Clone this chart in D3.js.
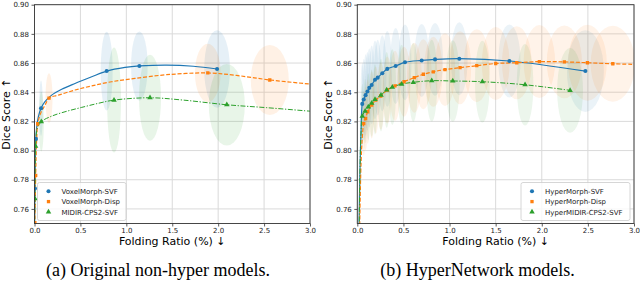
<!DOCTYPE html>
<html>
<head>
<meta charset="utf-8">
<script src="https://cdn.jsdelivr.net/npm/d3@7"></script>
<style>
  body { margin: 0; background: #fff; }
  svg { display: block; }
  .tick text { font-family: "DejaVu Sans", sans-serif; font-size: 7px; fill: #222; }
</style>
</head>
<body>
<div id="chart"></div>
<script>
/* DATA */
const xTicks = [0, 0.5, 1, 1.5, 2, 2.5, 3];
const yTicks = [0.76, 0.78, 0.80, 0.82, 0.84, 0.86, 0.88, 0.90];

// (a) original models: marker points, std ellipses (rx, ry) and fitted curve
const vmSvfPts = [[0.005,0.774],[0.016,0.808],[0.071,0.829],[0.786,0.8545],[1.142,0.858],[1.988,0.8559]];
const vmSvfRx = [0.003,0.004,0.02,0.065,0.09,0.14];
const vmSvfRy = [0.004,0.006,0.019,0.027,0.0237,0.0265];
const vmSvfCurve = [[0.0,0.745],[0.005,0.774],[0.012,0.80],[0.022,0.815],[0.041,0.823],[0.071,0.829],[0.114,0.8335],[0.187,0.838],[0.296,0.842],[0.441,0.846],[0.623,0.8506],[0.786,0.8545],[0.986,0.857],[1.142,0.858],[1.44,0.8586],[1.73,0.8578],[1.988,0.8559]];

const vmDispPts = [[0.004,0.7505],[0.013,0.783],[0.035,0.8184],[0.158,0.836],[1.887,0.8532],[2.562,0.8484]];
const vmDispRx = [0.002,0.004,0.01,0.038,0.14,0.207];
const vmDispRy = [0.004,0.006,0.012,0.017,0.02,0.024];
const vmDispCurve = [[0.002,0.745],[0.004,0.7505],[0.013,0.783],[0.022,0.805],[0.035,0.8184],[0.07,0.826],[0.114,0.831],[0.158,0.836],[0.26,0.838],[0.441,0.8415],[0.623,0.8443],[0.84,0.8472],[1.095,0.8495],[1.44,0.852],[1.887,0.8532],[2.2,0.8515],[2.562,0.8484],[3.0,0.8456]];

const midirPts = [[0.005,0.767],[0.012,0.803],[0.074,0.8198],[0.866,0.8346],[1.258,0.8362],[2.094,0.8314]];
const midirRx = [0.003,0.005,0.027,0.076,0.12,0.196];
const midirRy = [0.005,0.008,0.0205,0.036,0.0295,0.028];
const midirCurve = [[0.0,0.745],[0.005,0.767],[0.012,0.803],[0.03,0.815],[0.074,0.8198],[0.187,0.8236],[0.332,0.8266],[0.514,0.8296],[0.695,0.8324],[0.866,0.8346],[1.258,0.8362],[1.62,0.8346],[2.094,0.8314],[2.53,0.8294],[3.0,0.827]];

// (b) hypernetwork models
const hmSvfPts = [[0.054,0.832],[0.07,0.835],[0.09,0.838],[0.11,0.8405],[0.13,0.843],[0.156,0.845],[0.192,0.8485],[0.221,0.850],[0.271,0.853],[0.325,0.856],[0.416,0.858],[0.517,0.8605],[0.698,0.8618],[0.843,0.8625],[1.106,0.863],[1.649,0.8614],[2.473,0.8545]];
const hmSvfRx = [0.02,0.022,0.025,0.028,0.03,0.033,0.037,0.04,0.045,0.05,0.06,0.07,0.08,0.085,0.09,0.12,0.2];
const hmSvfRy = [0.028,0.028,0.028,0.027,0.027,0.027,0.027,0.026,0.026,0.026,0.026,0.026,0.025,0.025,0.025,0.025,0.028];
const hmSvfTail = [[0.018,0.745],[0.03,0.79],[0.04,0.812]];

const hmDispPts = [[0.07,0.8185],[0.09,0.822],[0.113,0.8266],[0.156,0.8312],[0.2,0.8346],[0.254,0.8374],[0.325,0.8415],[0.409,0.8444],[0.507,0.8472],[0.618,0.850],[0.716,0.8523],[0.824,0.854],[0.951,0.8555],[1.114,0.8568],[1.295,0.8582],[1.501,0.8597],[1.729,0.8602],[1.974,0.861],[2.245,0.8608],[2.495,0.8602],[2.770,0.8595]];
const hmDispRx = [0.02,0.022,0.025,0.03,0.035,0.04,0.05,0.06,0.07,0.08,0.09,0.1,0.11,0.12,0.14,0.15,0.16,0.17,0.19,0.21,0.24];
const hmDispRy = [0.022,0.022,0.022,0.023,0.023,0.023,0.023,0.024,0.024,0.024,0.024,0.024,0.025,0.025,0.025,0.025,0.025,0.025,0.025,0.026,0.026];
const hmDispTail = [[0.025,0.745],[0.04,0.79],[0.055,0.81]];
const hmDispEnd = [[3.0,0.8591]];

const hmMidirPts = [[0.054,0.8236],[0.085,0.827],[0.119,0.830],[0.156,0.8325],[0.192,0.8351],[0.257,0.838],[0.319,0.8415],[0.38,0.8435],[0.481,0.8456],[0.607,0.8468],[0.807,0.8479],[1.035,0.8477],[1.356,0.8472],[1.819,0.8451],[2.307,0.8413]];
const hmMidirRx = [0.015,0.018,0.02,0.022,0.025,0.03,0.035,0.04,0.045,0.05,0.06,0.075,0.08,0.09,0.14];
const hmMidirRy = [0.022,0.022,0.023,0.023,0.024,0.025,0.026,0.026,0.027,0.027,0.028,0.028,0.028,0.028,0.029];
const hmMidirTail = [[0.02,0.745],[0.03,0.79],[0.04,0.812]];

const legendA = ["VoxelMorph-SVF", "VoxelMorph-Disp", "MIDIR-CPS2-SVF"];
const legendB = ["HyperMorph-SVF", "HyperMorph-Disp", "HyperMIDIR-CPS2-SVF"];
const captions = ["(a) Original non-hyper models.", "(b) HyperNetwork models."];

/* CONSTANTS */
const W = 640, H = 281;
const colors = ["#1f77b4", "#ff7f0e", "#2ca02c"];
const dashes = [null, "4,1.8", "5,1.6,1.3,1.6"];
const shapes = [d3.symbolCircle, d3.symbolSquare, d3.symbolTriangle];
const yTop = 4.7, yBot = 223.5;

const panels = [
  { x0: 34.5, x1: 310, legendX: 37.5, legendW: 88.5, names: legendA, caption: captions[0], capX: 158, alpha: 0.11,
    series: [
      { pts: vmSvfPts, rx: vmSvfRx, ry: vmSvfRy, curve: vmSvfCurve },
      { pts: vmDispPts, rx: vmDispRx, ry: vmDispRy, curve: vmDispCurve },
      { pts: midirPts, rx: midirRx, ry: midirRy, curve: midirCurve }
    ] },
  { x0: 357.3, x1: 634, legendX: 521, legendW: 109, names: legendB, caption: captions[1], capX: 477.5, alpha: 0.09,
    series: [
      { pts: hmSvfPts, rx: hmSvfRx, ry: hmSvfRy, curve: hmSvfTail.concat(hmSvfPts) },
      { pts: hmDispPts, rx: hmDispRx, ry: hmDispRy, curve: hmDispTail.concat(hmDispPts, hmDispEnd) },
      { pts: hmMidirPts, rx: hmMidirRx, ry: hmMidirRy, curve: hmMidirTail.concat(hmMidirPts) }
    ] }
];

const svg = d3.select("#chart").append("svg")
  .attr("width", W)
  .attr("height", H);

panels.forEach((p, pi) => {
  const xScale = d3.scaleLinear().domain([0, 3]).range([p.x0, p.x1]);
  const yScale = d3.scaleLinear().domain([0.75, 0.90]).range([yBot, yTop]);
  const g = svg.append("g");

  const clipId = "clip" + pi;
  svg.append("clipPath").attr("id", clipId)
    .append("rect")
    .attr("x", p.x0).attr("y", yTop)
    .attr("width", p.x1 - p.x0).attr("height", yBot - yTop);

  // grid
  g.append("g").selectAll("line").data(xTicks).join("line")
    .attr("x1", d => xScale(d)).attr("x2", d => xScale(d))
    .attr("y1", yTop).attr("y2", yBot)
    .attr("stroke", "#dadada").attr("stroke-width", 1);
  g.append("g").selectAll("line").data(yTicks).join("line")
    .attr("x1", p.x0).attr("x2", p.x1)
    .attr("y1", d => yScale(d)).attr("y2", d => yScale(d))
    .attr("stroke", "#dadada").attr("stroke-width", 1);

  const plot = g.append("g").attr("clip-path", `url(#${clipId})`);

  // std ellipses
  p.series.forEach((s, si) => {
    plot.append("g").selectAll("ellipse").data(s.pts).join("ellipse")
      .attr("cx", d => xScale(d[0]))
      .attr("cy", d => yScale(d[1]))
      .attr("rx", (d, i) => xScale(s.rx[i]) - xScale(0))
      .attr("ry", (d, i) => yScale(0.75) - yScale(0.75 + s.ry[i]))
      .attr("fill", colors[si])
      .attr("fill-opacity", p.alpha);
  });

  // fitted lines + markers
  const lineGen = d3.line()
    .x(d => xScale(d[0]))
    .y(d => yScale(d[1]))
    .curve(d3.curveCatmullRom.alpha(0.5));

  p.series.forEach((s, si) => {
    plot.append("path")
      .datum(s.curve)
      .attr("fill", "none")
      .attr("stroke", colors[si])
      .attr("stroke-width", si === 2 ? 1 : 1.2)
      .attr("stroke-dasharray", dashes[si])
      .attr("d", lineGen);
  });
  p.series.forEach((s, si) => {
    plot.append("g").selectAll("path").data(s.pts).join("path")
      .attr("transform", d => `translate(${xScale(d[0])},${yScale(d[1])})`)
      .attr("d", d3.symbol().type(shapes[si]).size(si === 1 ? 11 : 13))
      .attr("fill", colors[si]);
  });

  // axes
  const xAxis = d3.axisBottom(xScale).tickValues(xTicks).tickFormat(d3.format(".1f")).tickSize(3).tickPadding(2);
  const yAxis = d3.axisLeft(yScale).tickValues(yTicks).tickFormat(d3.format(".2f")).tickSize(3).tickPadding(2.5);
  const xg = g.append("g").attr("transform", `translate(0,${yBot})`).call(xAxis);
  const yg = g.append("g").attr("transform", `translate(${p.x0},0)`).call(yAxis);
  [xg, yg].forEach(a => {
    a.select(".domain").remove();
    a.selectAll(".tick line").attr("stroke", "#333").attr("stroke-width", 0.8);
  });

  // spines
  g.append("rect")
    .attr("x", p.x0).attr("y", yTop)
    .attr("width", p.x1 - p.x0).attr("height", yBot - yTop)
    .attr("fill", "none").attr("stroke", "#333").attr("stroke-width", 0.9);

  // labels
  g.append("text")
    .attr("x", (p.x0 + p.x1) / 2).attr("y", 245)
    .attr("text-anchor", "middle")
    .attr("font-family", "DejaVu Sans, sans-serif")
    .attr("font-size", 11)
    .text("Folding Ratio (%) ↓");
  g.append("text")
    .attr("transform", `translate(${p.x0 - 25},${(yTop + yBot) / 2}) rotate(-90)`)
    .attr("text-anchor", "middle")
    .attr("font-family", "DejaVu Sans, sans-serif")
    .attr("font-size", 11)
    .text("Dice Score ↑");

  // legend
  const lg = g.append("g").attr("transform", `translate(${p.legendX},182.5)`);
  lg.append("rect")
    .attr("width", p.legendW).attr("height", 38).attr("rx", 2)
    .attr("fill", "#fff").attr("fill-opacity", 0.8)
    .attr("stroke", "#ccc").attr("stroke-width", 0.8);
  p.names.forEach((name, i) => {
    const row = lg.append("g").attr("transform", `translate(0,${8.7 + i * 10.4})`);
    row.append("path")
      .attr("transform", `translate(11,0)`)
      .attr("d", d3.symbol().type(shapes[i]).size(i === 1 ? 11 : 13))
      .attr("fill", colors[i]);
    row.append("text")
      .attr("x", 24).attr("y", 2.5)
      .attr("font-family", "DejaVu Sans, sans-serif")
      .attr("font-size", 7)
      .attr("fill", "#222")
      .text(name);
  });

  // caption
  svg.append("text")
    .attr("x", p.capX).attr("y", 276)
    .attr("text-anchor", "middle")
    .attr("font-family", "Liberation Serif, serif")
    .attr("font-size", 18)
    .text(p.caption);
});
</script>
</body>
</html>
